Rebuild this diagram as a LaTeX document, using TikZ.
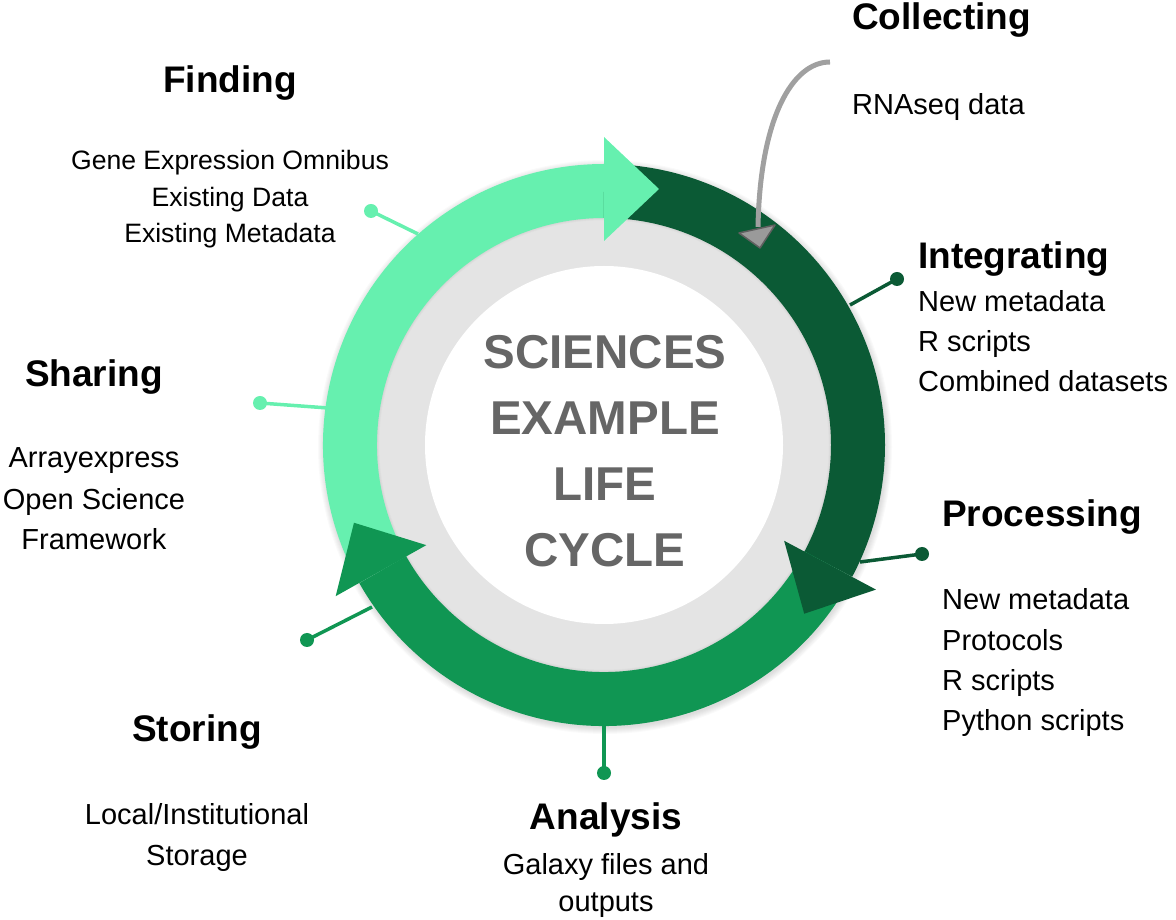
\documentclass[tikz,border=0pt]{standalone}
\usepackage{fontspec}
\setmainfont{Liberation Sans}
\usetikzlibrary{calc}
\definecolor{lgreen}{HTML}{66F0AF}
\definecolor{dgreen}{HTML}{0B5A35}
\definecolor{mgreen}{HTML}{109653}
\definecolor{ringgray}{HTML}{E4E4E4}
\definecolor{txtgray}{HTML}{666666}
\definecolor{arrgray}{HTML}{A0A0A0}
\definecolor{arrfill}{HTML}{9A9A9A}
\definecolor{arrdark}{HTML}{606060}
\begin{document}
\begin{tikzpicture}[x=1pt,y=1pt,
  head/.style={font=\fontsize{37}{44}\selectfont\bfseries, inner sep=0},
  body/.style={font=\fontsize{29}{35}\selectfont, inner sep=0},
  smallbody/.style={font=\fontsize{26.6}{32}\selectfont, inner sep=0},
  centre/.style={font=\fontsize{47.5}{57}\selectfont\bfseries, text=txtgray, inner sep=0},
  dotnode/.style={circle, fill=#1, inner sep=0, minimum size=14pt},
  conn/.style={draw=#1, line width=3.5pt},
  band/.style={draw=#1, line width=54pt},
]
\useasboundingbox (0,0) rectangle (1176,919);
\coordinate (C) at (604,474);

% soft shadow of the ring
\foreach \k in {1,...,7}
  \fill[black, opacity=0.018] ($(C)+(1,-2)$) circle[radius=280+\k];

% connectors with dots
\coordinate (fR) at (418,685);
\node[dotnode=lgreen] (fD) at (371,708) {};
\draw[conn=lgreen] (fR) -- (fD.center);

\coordinate (sR) at (328,511);
\node[dotnode=lgreen] (sD) at (260,516) {};
\draw[conn=lgreen] (sR) -- (sD.center);

\coordinate (iR) at (850,614);
\node[dotnode=dgreen] (iD) at (897,640) {};
\draw[conn=dgreen] (iR) -- (iD.center);

\coordinate (pR) at (860,357);
\node[dotnode=dgreen] (pD) at (922,365) {};
\draw[conn=dgreen] (pR) -- (pD.center);

\coordinate (aR) at (604,195);
\node[dotnode=mgreen] (aD) at (604,146) {};
\draw[conn=mgreen] (aR) -- (aD.center);

\coordinate (tR) at (372,312);
\node[dotnode=mgreen] (tD) at (307,279) {};
\draw[conn=mgreen] (tR) -- (tD.center);

% grey ring and white centre
\fill[ringgray] (C) circle[radius=230];
\foreach \k in {1,...,5}
  \draw[black, opacity=0.012, line width=\k pt] (C) circle[radius=227];
\fill[white] (C) circle[radius=179];

% coloured bands
\draw[band=lgreen] ($(C)+(209.4:254)$) arc[start angle=209.4, end angle=90, radius=254];
\draw[band=dgreen] ($(C)+(90:254)$) arc[start angle=90, end angle=-28, radius=254];
\draw[band=mgreen] ($(C)+(-28:254)$) arc[start angle=-28, end angle=-150.6, radius=254];

% arrowheads
\fill[lgreen] ($(C)+(90:204)$) -- ($(C)+(90:308)$) -- ($(C)+(90:256)+(0:55)$) -- cycle;
\fill[dgreen] ($(C)+(-28:204)$) -- ($(C)+(-28:308)$) -- ($(C)+(-28:256)+(-118:55)$) -- cycle;
\fill[mgreen] ($(C)+(209.4:204)$) -- ($(C)+(209.4:308)$) -- ($(C)+(209.4:256)+(119.4:55)$) -- cycle;

% centre text
\node[centre, anchor=base] (c1) at (605,550) {SCIENCES};
\node[centre, anchor=base] (c2) at (605,484) {EXAMPLE};
\node[centre, anchor=base] (c3) at (605,418) {LIFE};
\node[centre, anchor=base] (c4) at (605,352) {CYCLE};

% grey collecting arrow
\coordinate (gS) at (830,857);
\coordinate (gE) at (758,692);
\draw[arrgray, line width=5pt] (gS) .. controls (792,857) and (760,800) .. (gE);
\filldraw[fill=arrfill, draw=arrdark, line width=1.5pt, line join=round]
  (739,686) -- (775,694) -- (760,671) -- cycle;

% Collecting
\node[head, anchor=base west] (colH) at (852,889) {Collecting};
\node[body, anchor=base west] (col1) at (852,804) {RNAseq data};

% Finding
\node[head, anchor=base] (finH) at (230,826) {Finding};
\node[smallbody, anchor=base] (fin1) at (230,749) {Gene Expression Omnibus};
\node[smallbody, anchor=base] (fin2) at (230,712) {Existing Data};
\node[smallbody, anchor=base] (fin3) at (230,676) {Existing Metadata};

% Integrating
\node[head, anchor=base west] (intH) at (918,650) {Integrating};
\node[body, anchor=base west] (int1) at (918,607) {New metadata};
\node[body, anchor=base west] (int2) at (918,567) {R scripts};
\node[body, anchor=base west] (int3) at (918,527) {Combined datasets};

% Sharing
\node[head, anchor=base] (shaH) at (94,532) {Sharing};
\node[body, anchor=base] (sha1) at (94,451) {Arrayexpress};
\node[body, anchor=base] (sha2) at (94,409) {Open Science};
\node[body, anchor=base] (sha3) at (94,369) {Framework};

% Processing
\node[head, anchor=base west] (proH) at (942,392) {Processing};
\node[body, anchor=base west] (pro1) at (942,309) {New metadata};
\node[body, anchor=base west] (pro2) at (942,268) {Protocols};
\node[body, anchor=base west] (pro3) at (942,228) {R scripts};
\node[body, anchor=base west] (pro4) at (942,188) {Python scripts};

% Storing
\node[head, anchor=base] (stoH) at (197,177) {Storing};
\node[body, anchor=base] (sto1) at (197,94) {Local/Institutional};
\node[body, anchor=base] (sto2) at (197,54) {Storage};

% Analysis
\node[head, anchor=base] (anaH) at (606,89) {Analysis};
\node[body, anchor=base] (ana1) at (606,45) {Galaxy files and};
\node[body, anchor=base] (ana2) at (606,8) {outputs};
\end{tikzpicture}
\end{document}
